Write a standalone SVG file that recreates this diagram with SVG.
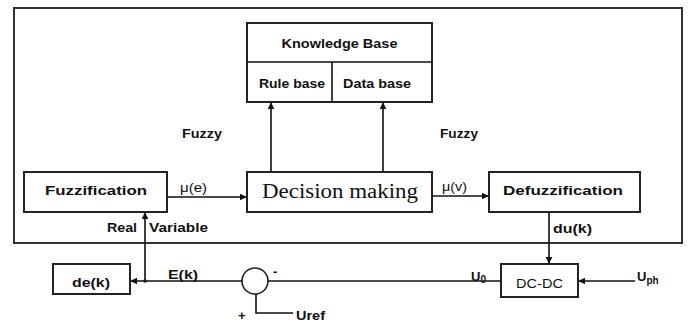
<svg xmlns="http://www.w3.org/2000/svg" width="691" height="323" viewBox="0 0 691 323">
<style>
.box{fill:#fff;stroke:#222;stroke-width:2}
.frame{fill:none;stroke:#333;stroke-width:2}
.ln{fill:none;stroke:#111;stroke-width:1.6}
.t{font-family:"Liberation Sans",Arial,sans-serif;font-weight:bold;font-size:13px;fill:#111}
.n{font-weight:normal}
.s{font-family:"Liberation Serif","Times New Roman",serif;font-size:20px;fill:#111}
</style>
<defs>
<marker id="ah" viewBox="0 0 10 10" refX="9" refY="5" markerWidth="7" markerHeight="7" markerUnits="userSpaceOnUse" orient="auto">
<path d="M0,0 L10,5 L0,10 z" fill="#111"/>
</marker>
</defs>
<rect class="frame" x="14" y="8" width="668" height="235"/>
<g id="knowledge-base">
<rect class="box" x="247" y="23" width="185" height="79"/>
<line class="ln" x1="247" y1="62" x2="432" y2="62"/>
<line class="ln" x1="332" y1="62" x2="332" y2="102"/>
<text class="t" x="339.5" y="48" text-anchor="middle" textLength="116" lengthAdjust="spacingAndGlyphs">Knowledge Base</text>
<text class="t" x="259" y="88" textLength="66" lengthAdjust="spacingAndGlyphs">Rule base</text>
<text class="t" x="343" y="88" textLength="68" lengthAdjust="spacingAndGlyphs">Data base</text>
</g>
<g id="fuzzification">
<rect class="box" x="24" y="172" width="143" height="40"/>
<text class="t" x="45" y="195" textLength="102" lengthAdjust="spacingAndGlyphs">Fuzzification</text>
</g>
<g id="decision-making">
<rect class="box" x="247" y="172" width="185" height="40"/>
<text class="s" x="262" y="198" textLength="156" lengthAdjust="spacingAndGlyphs">Decision making</text>
</g>
<g id="defuzzification">
<rect class="box" x="489" y="172" width="151" height="40"/>
<text class="t" x="503" y="195" textLength="120" lengthAdjust="spacingAndGlyphs">Defuzzification</text>
</g>
<g id="de-k">
<rect class="box" x="53" y="264" width="77" height="30"/>
<text class="t" x="72" y="287" textLength="38" lengthAdjust="spacingAndGlyphs">de(k)</text>
</g>
<g id="dc-dc">
<rect class="box" x="501" y="264" width="77" height="33"/>
<text class="t n" x="516" y="288" textLength="47" lengthAdjust="spacingAndGlyphs">DC-DC</text>
</g>
<g id="sum">
<circle cx="255" cy="281" r="13" fill="#fff" stroke="#222" stroke-width="1.6"/>
<text class="t" x="273" y="276">-</text>
<text class="t" x="238" y="320" font-size="10">+</text>
</g>
<g id="connectors">
<line class="ln" x1="271" y1="172" x2="271" y2="103" marker-end="url(#ah)"/>
<line class="ln" x1="383" y1="172" x2="383" y2="103" marker-end="url(#ah)"/>
<line class="ln" x1="167" y1="197" x2="246" y2="197" marker-end="url(#ah)"/>
<line class="ln" x1="432" y1="196" x2="488" y2="196" marker-end="url(#ah)"/>
<line class="ln" x1="549" y1="212" x2="549" y2="263" marker-end="url(#ah)"/>
<line class="ln" x1="635" y1="281" x2="579" y2="281" marker-end="url(#ah)"/>
<line class="ln" x1="501" y1="281" x2="268" y2="281"/>
<line class="ln" x1="242" y1="281" x2="131" y2="281" marker-end="url(#ah)"/>
<line class="ln" x1="145" y1="281" x2="145" y2="213" marker-end="url(#ah)"/>
<circle cx="145" cy="281" r="1.8" fill="#111"/>
<polyline class="ln" points="256,294 256,313 293,313"/>
</g>
<g id="labels">
<text class="t" x="182" y="138" textLength="40" lengthAdjust="spacingAndGlyphs">Fuzzy</text>
<text class="t" x="440" y="138" textLength="38" lengthAdjust="spacingAndGlyphs">Fuzzy</text>
<text class="t n" x="180" y="192" textLength="27" lengthAdjust="spacingAndGlyphs">μ(e)</text>
<text class="t n" x="442" y="191" textLength="25" lengthAdjust="spacingAndGlyphs">μ(v)</text>
<text class="t" x="107" y="232" textLength="30" lengthAdjust="spacingAndGlyphs">Real</text>
<text class="t" x="149" y="232" textLength="59" lengthAdjust="spacingAndGlyphs">Variable</text>
<text class="t" x="553" y="233" textLength="39" lengthAdjust="spacingAndGlyphs">du(k)</text>
<text class="t" x="168" y="279" textLength="30" lengthAdjust="spacingAndGlyphs">E(k)</text>
<text class="t" x="471" y="281" font-size="15">U<tspan font-size="10" dy="2">0</tspan></text>
<text class="t" x="637" y="281" font-size="15">U<tspan font-size="10" dy="3">ph</tspan></text>
<text class="t" x="296" y="320" font-size="10" textLength="29" lengthAdjust="spacingAndGlyphs">Uref</text>
</g>
</svg>
